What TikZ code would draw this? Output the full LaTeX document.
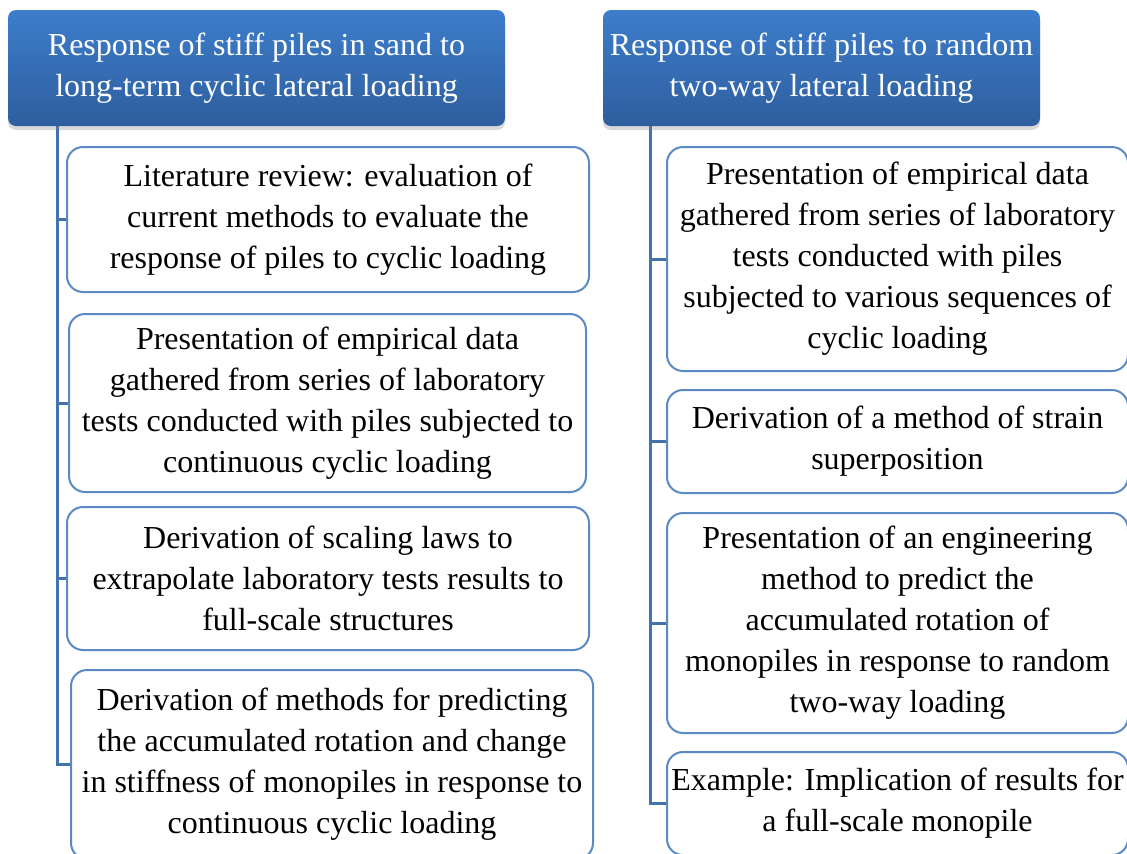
\documentclass[tikz,border=0pt]{standalone}
\usepackage{fontspec}
\setmainfont{Liberation Serif}
\usetikzlibrary{shadows}
\definecolor{headtop}{HTML}{3D7DCB}
\definecolor{headbot}{HTML}{2E5E9E}
\definecolor{boxline}{HTML}{5A89C4}
\definecolor{trunkblue}{HTML}{4472AA}
\tikzset{
    head/.style={rounded corners=4pt, top color=headtop, bottom color=headbot, text=white,
        align=center, inner sep=0pt, drop shadow={opacity=0.3, shadow xshift=0pt, shadow yshift=-2pt}},
    item/.style={draw=boxline, line width=1pt, rounded corners=8pt, fill=white, align=center, inner sep=0pt},
    link/.style={draw=trunkblue, line width=1.5pt},
}
\begin{document}
\begin{tikzpicture}[x=0.5pt, y=-0.5pt, font=\fontsize{16}{20.5}\selectfont]
        \useasboundingbox (0,0) rectangle (1127,853);
        \clip (0,0) rectangle (1127,853);

        % left column
        \coordinate (tl) at (57,120);
        \node[item, minimum width=261pt, minimum height=72.5pt] (l1) at (328,219.5)
            {Literature review: evaluation of\\current methods to evaluate the\\response of piles to cyclic loading};
        \node[item, minimum width=258.5pt, minimum height=89pt] (l2) at (327.5,403)
            {Presentation of empirical data\\gathered from series of laboratory\\tests conducted with piles subjected to\\continuous cyclic loading};
        \node[item, minimum width=261pt, minimum height=71.5pt] (l3) at (328,578.5)
            {Derivation of scaling laws to\\extrapolate laboratory tests results to\\full-scale structures};
        \node[item, minimum width=261pt, minimum height=94.5pt] (l4) at (332,764.5)
            {Derivation of methods for predicting\\the accumulated rotation and change\\in stiffness of monopiles in response to\\continuous cyclic loading};

        % right column
        \coordinate (tr) at (650,120);
        \node[item, minimum width=230.5pt, minimum height=112pt] (r1) at (897.5,259)
            {Presentation of empirical data\\gathered from series of laboratory\\tests conducted with piles\\subjected to various sequences of\\cyclic loading};
        \node[item, minimum width=230.5pt, minimum height=51.5pt] (r2) at (897.5,441.5)
            {Derivation of a method of strain\\superposition};
        \node[item, minimum width=230.5pt, minimum height=110pt] (r3) at (897.5,623)
            {Presentation of an engineering\\method to predict the\\accumulated rotation of\\monopiles in response to random\\two-way loading};
        \node[item, minimum width=230.5pt, minimum height=51.5pt] (r4) at (897.5,803.5)
            {Example: Implication of results for\\a full-scale monopile};

        % connectors
        \draw[link] (tl) |- (l4.west);
        \foreach \b in {l1,l2,l3} {
            \draw[link] (\b.west -| tl) -- (\b.west);
        }
        \draw[link] (tr) |- (r4.west);
        \foreach \b in {r1,r2,r3} {
            \draw[link] (\b.west -| tr) -- (\b.west);
        }

        % headers
        \node[head, minimum width=248.5pt, minimum height=58pt] (h1) at (256.5,68)
            {Response of stiff piles in sand to\\long-term cyclic lateral loading};
        \node[head, minimum width=218.5pt, minimum height=58pt] (h2) at (821.5,68)
            {Response of stiff piles to random\\two-way lateral loading};
    \end{tikzpicture}
\end{document}
